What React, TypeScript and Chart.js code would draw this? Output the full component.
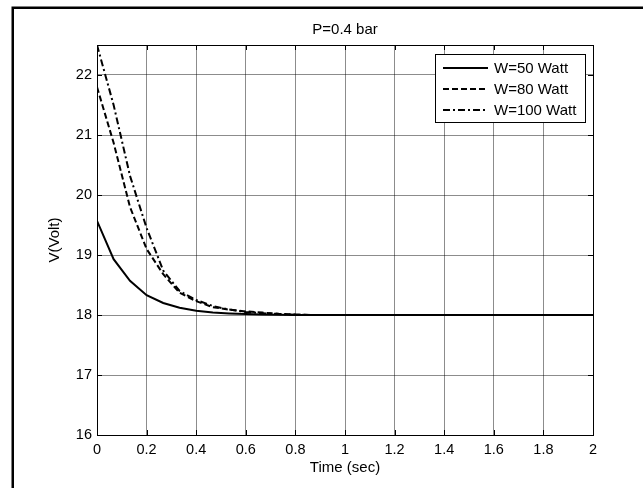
import React, { useEffect, useRef } from "react";
import { Chart, registerables } from "chart.js";

Chart.register(...registerables);

const timeSec = [0, 0.067, 0.133, 0.2, 0.267, 0.333, 0.4, 0.467, 0.533, 0.6, 0.667, 0.733, 0.8, 0.867, 1.0, 1.2, 1.4, 1.6, 1.8, 2.0];
const w50 = [19.57, 18.93, 18.57, 18.33, 18.2, 18.12, 18.07, 18.04, 18.025, 18.015, 18.01, 18.005, 18.0, 18.0, 18.0, 18.0, 18.0, 18.0, 18.0, 18.0];
const w80 = [21.8, 20.87, 19.8, 19.1, 18.68, 18.37, 18.23, 18.13, 18.09, 18.06, 18.04, 18.02, 18.01, 18.0, 18.0, 18.0, 18.0, 18.0, 18.0, 18.0];
const w100 = [22.5, 21.5, 20.32, 19.45, 18.74, 18.4, 18.25, 18.15, 18.09, 18.05, 18.03, 18.015, 18.005, 18.0, 18.0, 18.0, 18.0, 18.0, 18.0, 18.0];
const seriesLabels = ["W=50 Watt", "W=80 Watt", "W=100 Watt"];
const titleText = "P=0.4 bar";
const xTitle = "Time (sec)";
const yTitle = "V(Volt)";

const FONT = '"Liberation Sans", Arial, sans-serif';

const framePlugin = {
  id: "frame",
  beforeDraw(chart: any) {
    const { ctx, width, height } = chart;
    ctx.save();
    ctx.fillStyle = "#fff";
    ctx.fillRect(0, 0, width, height);
    ctx.strokeStyle = "#000";
    ctx.lineWidth = 2.5;
    ctx.beginPath();
    ctx.moveTo(12.75, height);
    ctx.lineTo(12.75, 7.75);
    ctx.lineTo(width, 7.75);
    ctx.stroke();
    ctx.restore();
  },
};

const axesBoxPlugin = {
  id: "axesBox",
  afterDatasetsDraw(chart: any) {
    const { ctx, chartArea } = chart;
    const { left, right, top, bottom } = chartArea;
    const xs = chart.scales.x;
    const ys = chart.scales.y;
    const tl = 5;
    ctx.save();
    ctx.strokeStyle = "#000";
    ctx.lineWidth = 1;
    ctx.setLineDash([]);
    ctx.strokeRect(Math.round(left) + 0.5, Math.round(top) + 0.5, Math.round(right - left), Math.round(bottom - top));
    ctx.beginPath();
    xs.ticks.forEach((t: any) => {
      const px = Math.round(xs.getPixelForValue(t.value)) + 0.5;
      ctx.moveTo(px, bottom);
      ctx.lineTo(px, bottom - tl);
      ctx.moveTo(px, top);
      ctx.lineTo(px, top + tl);
    });
    ys.ticks.forEach((t: any) => {
      const py = Math.round(ys.getPixelForValue(t.value)) + 0.5;
      ctx.moveTo(left, py);
      ctx.lineTo(left + tl, py);
      ctx.moveTo(right, py);
      ctx.lineTo(right - tl, py);
    });
    ctx.stroke();
    ctx.restore();
  },
};

const legendPlugin = {
  id: "boxLegend",
  afterDraw(chart: any) {
    const { ctx, chartArea } = chart;
    const w = 150;
    const h = 68;
    const x0 = Math.round(chartArea.right - 8 - w);
    const y0 = Math.round(chartArea.top + 9);
    ctx.save();
    ctx.fillStyle = "#fff";
    ctx.fillRect(x0, y0, w, h);
    ctx.strokeStyle = "#000";
    ctx.lineWidth = 1;
    ctx.setLineDash([]);
    ctx.strokeRect(x0 + 0.5, y0 + 0.5, w, h);
    chart.data.datasets.forEach((ds: any, i: number) => {
      const y = y0 + 14 + i * 21;
      ctx.beginPath();
      ctx.setLineDash(ds.borderDash || []);
      ctx.lineWidth = ds.borderWidth;
      ctx.strokeStyle = ds.borderColor;
      ctx.moveTo(x0 + 8, y);
      ctx.lineTo(x0 + 53, y);
      ctx.stroke();
      ctx.setLineDash([]);
      ctx.fillStyle = "#000";
      ctx.font = `15px ${FONT}`;
      ctx.textBaseline = "middle";
      ctx.textAlign = "left";
      ctx.fillText(ds.label, x0 + 59, y + 1);
    });
    ctx.restore();
  },
};

export default function App() {
  const ref = useRef<HTMLCanvasElement | null>(null);

  useEffect(() => {
    document.body.style.margin = "0";
    if (!ref.current) return;
    const mk = (vals: number[]) => timeSec.map((t, i) => ({ x: t, y: vals[i] }));
    const chart = new Chart(ref.current, {
      type: "line",
      data: {
        datasets: [
          { label: seriesLabels[0], data: mk(w50), borderColor: "#000", borderWidth: 2, borderDash: [], pointRadius: 0, fill: false, tension: 0 },
          { label: seriesLabels[1], data: mk(w80), borderColor: "#000", borderWidth: 2, borderDash: [6, 3], pointRadius: 0, fill: false, tension: 0 },
          { label: seriesLabels[2], data: mk(w100), borderColor: "#000", borderWidth: 2, borderDash: [7, 3, 2, 3], pointRadius: 0, fill: false, tension: 0 },
        ],
      },
      options: {
        responsive: false,
        animation: false,
        layout: { padding: { left: 0, right: 50, top: 0, bottom: 0 } },
        plugins: {
          legend: { display: false },
          tooltip: { enabled: false },
          title: {
            display: true,
            text: titleText,
            fullSize: false,
            color: "#000",
            font: { family: FONT, size: 15, weight: "normal" },
            padding: { top: 21, bottom: 6 },
          },
        },
        scales: {
          x: {
            type: "linear",
            min: 0,
            max: 2,
            ticks: {
              stepSize: 0.2,
              autoSkip: false,
              color: "#000",
              font: { family: FONT, size: 14.5 },
              padding: 6,
              maxRotation: 0,
              callback: (v: any) => String(Math.round(Number(v) * 10) / 10),
            },
            grid: { color: "rgba(0,0,0,0.45)", lineWidth: 1, drawTicks: false },
            border: { display: false },
            title: {
              display: true,
              text: xTitle,
              color: "#000",
              font: { family: FONT, size: 15 },
              padding: { top: 0, bottom: 11 },
            },
            afterFit: (s: any) => {
              s.height = 53;
            },
          },
          y: {
            type: "linear",
            min: 16,
            max: 22.5,
            ticks: {
              stepSize: 1,
              includeBounds: false,
              color: "#000",
              font: { family: FONT, size: 14.5 },
              padding: 5,
            },
            grid: { color: "rgba(0,0,0,0.45)", lineWidth: 1, drawTicks: false },
            border: { display: false },
            title: {
              display: true,
              text: yTitle,
              color: "#000",
              font: { family: FONT, size: 15 },
              padding: { top: 46, bottom: 0 },
            },
            afterFit: (s: any) => {
              s.width = 97;
            },
          },
        },
      },
      plugins: [framePlugin, axesBoxPlugin, legendPlugin],
    } as any);
    return () => chart.destroy();
  }, []);

  return (
    <div style={{ width: 643, height: 488 }}>
      <canvas ref={ref} width={643} height={488} />
    </div>
  );
}
